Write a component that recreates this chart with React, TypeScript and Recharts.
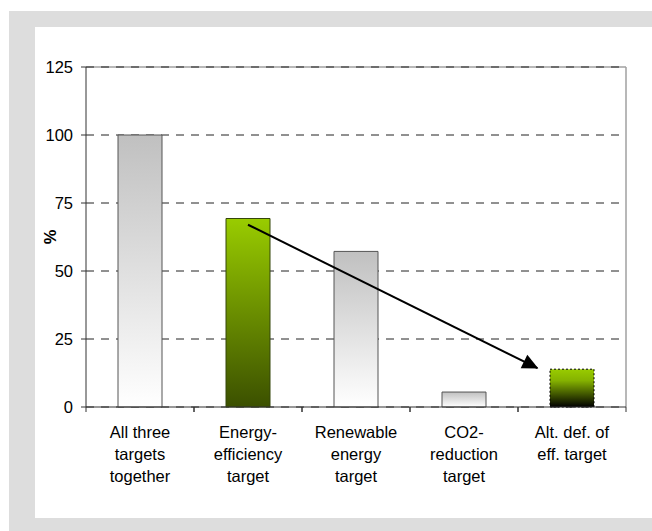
import React from "react";
import {
  Bar,
  CartesianGrid,
  Cell,
  ComposedChart,
  Line,
  ReferenceLine,
  XAxis,
  YAxis,
} from "recharts";

const categories = [
  "All three\ntargets\ntogether",
  "Energy-\nefficiency\ntarget",
  "Renewable\nenergy\ntarget",
  "CO2-\nreduction\ntarget",
  "Alt. def. of\neff. target",
];
const shares = [100, 69.3, 57.2, 5.5, 13.9];
const yTicks = [0, 25, 50, 75, 100, 125];

// arrow from the energy-efficiency bar down towards the alternative definition
// (x in category units on a 0..5 scale, y in %)
const arrowPoints = [
  { x: 1.5, y: 67 },
  { x: 4.18, y: 14.3 },
];

const data = categories.map((name, i) => ({ name, value: shares[i] }));

const FONT = "'Liberation Sans', Arial, sans-serif";
const FONT_SIZE = 16.5;
const CHART_W = 617;
const CHART_H = 491;
const MARGIN = { top: 40, right: 26, left: 0, bottom: 0 };
const Y_AXIS_W = 51;
const PLOT_W = CHART_W - MARGIN.left - MARGIN.right - Y_AXIS_W;
const HALF_BAND = PLOT_W / categories.length / 2;

const barStyles = [
  { fill: "url(#grayFill)", stroke: "#555555", dash: undefined },
  { fill: "url(#greenFill)", stroke: "#34460a", dash: undefined },
  { fill: "url(#grayFill)", stroke: "#555555", dash: undefined },
  { fill: "url(#grayFill)", stroke: "#555555", dash: undefined },
  { fill: "url(#greenBlackFill)", stroke: "#000000", dash: "2 2" },
];

function CategoryTick(props: any) {
  const { x, y, payload } = props;
  const lines = String(payload.value).split("\n");
  return (
    <g>
      <line x1={x - HALF_BAND} y1={y} x2={x - HALF_BAND} y2={y + 5} stroke="#333" />
      <line x1={x + HALF_BAND} y1={y} x2={x + HALF_BAND} y2={y + 5} stroke="#333" />
      <text textAnchor="middle" fill="#000" fontSize={FONT_SIZE} fontFamily={FONT}>
        {lines.map((line, i) => (
          <tspan key={i} x={x} y={y + 31 + i * 22}>
            {line}
          </tspan>
        ))}
      </text>
    </g>
  );
}

function PercentLabel(props: any) {
  const { viewBox } = props;
  const cx = 15;
  const cy = viewBox.y + viewBox.height / 2;
  return (
    <text
      x={cx}
      y={cy}
      transform={`rotate(-90, ${cx}, ${cy})`}
      textAnchor="middle"
      dominantBaseline="central"
      fontSize={FONT_SIZE}
      fontWeight="bold"
      fontFamily={FONT}
      fill="#000"
    >
      %
    </text>
  );
}

function ArrowHead(props: any) {
  const { x1, y1, x2, y2 } = props;
  if (![x1, y1, x2, y2].every(Number.isFinite)) return null;
  const len = Math.hypot(x2 - x1, y2 - y1);
  const ux = (x2 - x1) / len;
  const uy = (y2 - y1) / len;
  const head = 15;
  const half = 7.5;
  const bx = x2 - ux * head;
  const by = y2 - uy * head;
  const pts = [
    [x2 + ux, y2 + uy],
    [bx - uy * half, by + ux * half],
    [bx + uy * half, by - ux * half],
  ]
    .map((p) => p.join(","))
    .join(" ");
  return <polygon points={pts} fill="#000" />;
}

export default function App() {
  return (
    <div
      style={{
        position: "absolute",
        left: 0,
        top: 0,
        width: 652,
        height: 531,
        background: "#ffffff",
        overflow: "hidden",
      }}
    >
      <div
        style={{
          position: "absolute",
          left: 9,
          top: 11,
          width: 643,
          height: 520,
          background: "#dddddd",
        }}
      />
      <div
        style={{
          position: "absolute",
          left: 35,
          top: 27,
          width: CHART_W,
          height: CHART_H,
          background: "#ffffff",
        }}
      >
        <ComposedChart width={CHART_W} height={CHART_H} data={data} margin={MARGIN}>
          <defs>
            <linearGradient id="grayFill" x1="0" y1="0" x2="0" y2="1">
              <stop offset="0%" stopColor="#c0c0c0" />
              <stop offset="100%" stopColor="#ffffff" />
            </linearGradient>
            <linearGradient id="greenFill" x1="0" y1="0" x2="0" y2="1">
              <stop offset="0%" stopColor="#99cc00" />
              <stop offset="100%" stopColor="#3b5000" />
            </linearGradient>
            <linearGradient id="greenBlackFill" x1="0" y1="0" x2="0" y2="1">
              <stop offset="0%" stopColor="#99cc00" />
              <stop offset="30%" stopColor="#85b200" />
              <stop offset="100%" stopColor="#000000" />
            </linearGradient>
          </defs>
          {/* plot frame: top and right edges */}
          <CartesianGrid
            xAxisId="n"
            horizontalValues={[125]}
            verticalValues={[5]}
            stroke="#a0a0a0"
            strokeWidth={1.5}
          />
          <CartesianGrid
            horizontal
            vertical={false}
            stroke="#222222"
            strokeDasharray="8 7"
          />
          <XAxis
            dataKey="name"
            interval={0}
            height={111}
            tickLine={false}
            tickSize={0}
            tickMargin={0}
            axisLine={{ stroke: "#333333" }}
            tick={<CategoryTick />}
          />
          <XAxis
            xAxisId="n"
            dataKey="x"
            type="number"
            orientation="top"
            domain={[0, 5]}
            allowDataOverflow
            height={0}
            hide
          />
          <YAxis
            width={Y_AXIS_W}
            domain={[0, 125]}
            ticks={yTicks}
            interval={0}
            tickSize={5}
            tickMargin={8}
            axisLine={{ stroke: "#333333" }}
            tickLine={{ stroke: "#333333" }}
            tick={{ fill: "#000", fontSize: FONT_SIZE, fontFamily: FONT }}
            label={<PercentLabel />}
          />
          <Bar dataKey="value" barSize={44} isAnimationActive={false}>
            {data.map((d, i) => (
              <Cell
                key={d.name}
                fill={barStyles[i].fill}
                stroke={barStyles[i].stroke}
                strokeWidth={1}
                strokeDasharray={barStyles[i].dash}
              />
            ))}
          </Bar>
          <Line
            xAxisId="n"
            data={arrowPoints}
            dataKey="y"
            type="linear"
            stroke="#000000"
            strokeWidth={2}
            dot={false}
            activeDot={false}
            isAnimationActive={false}
          />
          <ReferenceLine
            xAxisId="n"
            segment={arrowPoints}
            shape={<ArrowHead />}
          />
        </ComposedChart>
      </div>
    </div>
  );
}
